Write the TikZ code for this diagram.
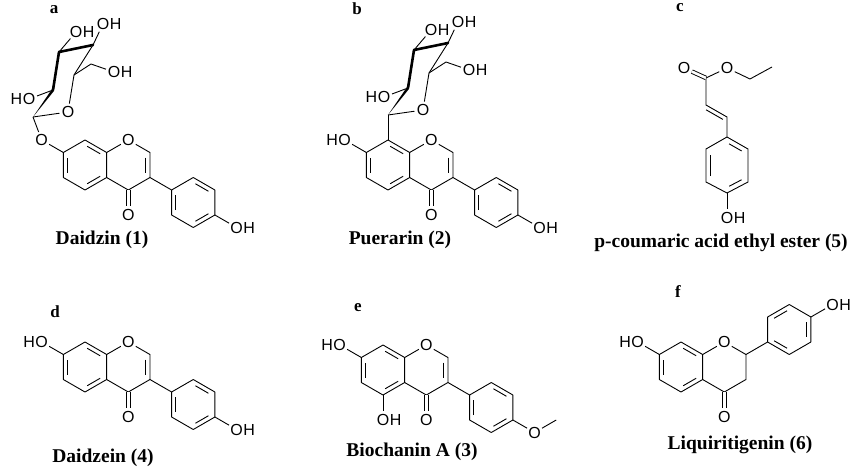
\documentclass[tikz,border=0pt]{standalone}
\usepackage{fontspec}
\newfontfamily\atomfont{Liberation Sans}
\newfontfamily\capfont{Liberation Serif}
\usetikzlibrary{calc}

% styles for atoms, labels and bonds
\tikzset{
  atom/.style={circle, inner sep=0pt, minimum size=14pt, font=\atomfont\fontsize{16}{16}\selectfont},
  hlab/.style={inner sep=0pt, font=\atomfont\fontsize{16}{16}\selectfont},
  caption/.style={font=\capfont\bfseries\fontsize{19.5}{21}\selectfont},
  panel/.style={font=\capfont\bfseries\fontsize{17}{19}\selectfont},
  bond/.style={line width=0.9pt, line join=round},
  wedge/.style={line width=2.6pt, line join=round, line cap=round}
}

% hexagon with pointy top: 1 top, 2 upper right, 3 lower right, 4 bottom, 5 lower left, 6 upper left
\newcommand\hexring[2]{%
  \coordinate (#1c) at #2;
  \foreach \k/\a in {1/-90,2/-30,3/30,4/90,5/150,6/-150}
    \coordinate (#1\k) at ($(#1c)+(\a:25)$);
  \draw[bond] (#11)--(#12)--(#13)--(#14)--(#15)--(#16)--cycle;}
% inner line of a double bond
\newcommand\dbin[3]{\draw[bond, shorten <=2.5pt, shorten >=2.5pt] ($(#1)!0.2!(#3)$) -- ($(#2)!0.2!(#3)$);}
% OH and HO labels
\newcommand\OH[2]{\node[atom] (#1) at #2 {O}; \node[hlab, anchor=west] at ([xshift=-2pt]#1.east) {H};}
\newcommand\HO[2]{\node[atom] (#1) at #2 {O}; \node[hlab, anchor=east] at ([xshift=2pt]#1.west) {H};}

% benzopyranone core with the aryl ring
\newcommand\isocore[2]{%
  \hexring{#1a}{#2}
  \dbin{#1a5}{#1a6}{#1ac}\dbin{#1a1}{#1a2}{#1ac}\dbin{#1a3}{#1a4}{#1ac}
  \node[atom] (#1o1) at ($(#1ac)+(43.3,-25)$) {O};
  \coordinate (#1c2) at ($(#1ac)+(64.95,-12.5)$);
  \coordinate (#1c3) at ($(#1ac)+(64.95,12.5)$);
  \coordinate (#1c4) at ($(#1ac)+(43.3,25)$);
  \coordinate (#1cc) at ($(#1ac)+(43.3,0)$);
  \node[atom] (#1o4) at ($(#1ac)+(43.3,50)$) {O};
  \draw[bond] (#1a2)--(#1o1)--(#1c2)--(#1c3)--(#1c4)--(#1a3);
  \dbin{#1c2}{#1c3}{#1cc}
  \draw[bond, double, double distance=2.6pt] (#1c4)--(#1o4);
  \hexring{#1b}{($(#1ac)+(108.25,37.5)$)}
  \draw[bond] (#1c3)--(#1b6);
  \dbin{#1b5}{#1b6}{#1bc}\dbin{#1b1}{#1b2}{#1bc}\dbin{#1b3}{#1b4}{#1bc}}

% glucose unit, #2 is the anomeric carbon
\newcommand\sugar[2]{%
  \coordinate (#1s1) at #2;
  \coordinate (#1s2) at ($(#1s1)+(20,-27)$);
  \coordinate (#1s3) at ($(#1s1)+(26,-65)$);
  \coordinate (#1s4) at ($(#1s1)+(60,-72)$);
  \coordinate (#1s5) at ($(#1s1)+(41,-42)$);
  \coordinate (#1ch) at ($(#1s1)+(58,-53)$);
  \node[atom] (#1so) at ($(#1s1)+(35,-5)$) {O};
  \draw[bond] (#1s1)--(#1so)--(#1s5)--(#1s4);
  \fill (#1s1)--($(#1s2)+(1.1,0.8)$)--($(#1s2)+(-1.1,-0.8)$)--cycle;
  \draw[wedge] (#1s2)--(#1s3)--(#1s4);
  \OH{#1oa}{($(#1s1)+(43,-85)$)}
  \OH{#1ob}{($(#1s1)+(70,-93)$)}
  \OH{#1oc}{($(#1s1)+(81,-45)$)}
  \HO{#1od}{($(#1s1)+(-4,-18)$)}
  \draw[bond] (#1s3)--(#1oa); \draw[bond] (#1s4)--(#1ob);
  \draw[bond] (#1s5)--(#1ch)--(#1oc); \draw[bond] (#1s2)--(#1od);}

\begin{document}
\begin{tikzpicture}[x=1pt,y=-1pt]
\useasboundingbox (0,0) rectangle (856,469);

% a: Daidzin
\node[panel] (la) at (54,10) {a};
\isocore{A}{(85,165)}
\node[atom] (Ag) at (41.7,140) {O};
\draw[bond] (Aa6)--(Ag);
\sugar{A}{(33,117)}
\draw[bond] (Ag)--(As1);
\OH{Aoh}{($(Ab3)+(21.65,12.5)$)}
\draw[bond] (Ab3)--(Aoh);
\node[caption] (ca) at (102,240) {Daidzin (1)};

% b: Puerarin
\node[panel] (lb) at (357,9) {b};
\isocore{B}{(388,165)}
\sugar{B}{(388,115)}
\draw[bond] (Ba1)--(Bs1);
\HO{Bo7}{($(Ba6)+(-21.65,-12.5)$)}
\draw[bond] (Ba6)--(Bo7);
\OH{Boh}{($(Bb3)+(21.65,12.5)$)}
\draw[bond] (Bb3)--(Boh);
\node[caption] (cb) at (400,240) {Puerarin (2)};

% c: p-coumaric acid ethyl ester
\node[panel] (lc) at (680,8) {c};
\coordinate (C1) at (727,137); \coordinate (C2) at (748,149);
\coordinate (C3) at (748,182); \coordinate (C4) at (727,193);
\coordinate (C5) at (706,182); \coordinate (C6) at (706,149);
\coordinate (Cc) at (727,165);
\draw[bond] (C1)--(C2)--(C3)--(C4)--(C5)--(C6)--cycle;
\dbin{C5}{C6}{Cc}\dbin{C1}{C2}{Cc}\dbin{C3}{C4}{Cc}
\OH{Coh}{(727,218)}
\draw[bond] (C4)--(Coh);
\coordinate (Cb) at (727,117); \coordinate (Ca) at (706,105);
\coordinate (Ck) at (706,78);
\draw[bond] (C1)--(Cb)--(Ca)--(Ck);
\draw[bond, shorten <=2.5pt, shorten >=2.5pt] ($(Cb)+(-2,3.6)$)--($(Ca)+(-2,3.6)$);
\node[atom] (Cok) at (684,68) {O};
\node[atom] (Coe) at (727,68) {O};
\draw[bond, double, double distance=2.6pt] (Ck)--(Cok);
\coordinate (Ce1) at (750,79); \coordinate (Ce2) at (772,67);
\draw[bond] (Ck)--(Coe)--(Ce1)--(Ce2);
\node[caption] (cc) at (721,243) {p-coumaric acid ethyl ester (5)};

% d: Daidzein
\node[panel] (ld) at (55,312) {d};
\isocore{D}{(85,367)}
\HO{Do7}{($(Da6)+(-21.65,-12.5)$)}
\draw[bond] (Da6)--(Do7);
\OH{Doh}{($(Db3)+(21.65,12.5)$)}
\draw[bond] (Db3)--(Doh);
\node[caption] (cd) at (103,458) {Daidzein (4)};

% e: Biochanin A
\node[panel] (le) at (358,308) {e};
\isocore{E}{(383,370)}
\HO{Eo7}{($(Ea6)+(-21.65,-12.5)$)}
\draw[bond] (Ea6)--(Eo7);
\OH{Eo5}{($(Ea4)+(0,25)$)}
\draw[bond] (Ea4)--(Eo5);
\node[atom] (Eom) at ($(Eb3)+(21.65,12.5)$) {O};
\coordinate (Eme) at ($(Eom)+(21.65,-12.5)$);
\draw[bond] (Eb3)--(Eom)--(Eme);
\node[caption] (ce) at (412,452) {Biochanin A (3)};

% f: Liquiritigenin
\node[panel] (lf) at (678,292) {f};
\hexring{Fa}{(681,367)}
\dbin{Fa5}{Fa6}{Fac}\dbin{Fa1}{Fa2}{Fac}\dbin{Fa3}{Fa4}{Fac}
\node[atom] (Fo1) at ($(Fac)+(43.3,-25)$) {O};
\coordinate (Fc2) at ($(Fac)+(64.95,-12.5)$);
\coordinate (Fc3) at ($(Fac)+(64.95,12.5)$);
\coordinate (Fc4) at ($(Fac)+(43.3,25)$);
\node[atom] (Fo4) at ($(Fac)+(43.3,50)$) {O};
\draw[bond] (Fa2)--(Fo1)--(Fc2)--(Fc3)--(Fc4)--(Fa3);
\draw[bond, double, double distance=2.6pt] (Fc4)--(Fo4);
\hexring{Fb}{($(Fc2)+(43.3,-25)$)}
\draw[bond] (Fc2)--(Fb5);
\dbin{Fb6}{Fb1}{Fbc}\dbin{Fb2}{Fb3}{Fbc}\dbin{Fb4}{Fb5}{Fbc}
\HO{Fo7}{($(Fa6)+(-21.65,-12.5)$)}
\draw[bond] (Fa6)--(Fo7);
\OH{Foh}{($(Fb2)+(21.65,-12.5)$)}
\draw[bond] (Fb2)--(Foh);
\node[caption] (cf) at (740,445) {Liquiritigenin (6)};

\end{tikzpicture}
\end{document}
